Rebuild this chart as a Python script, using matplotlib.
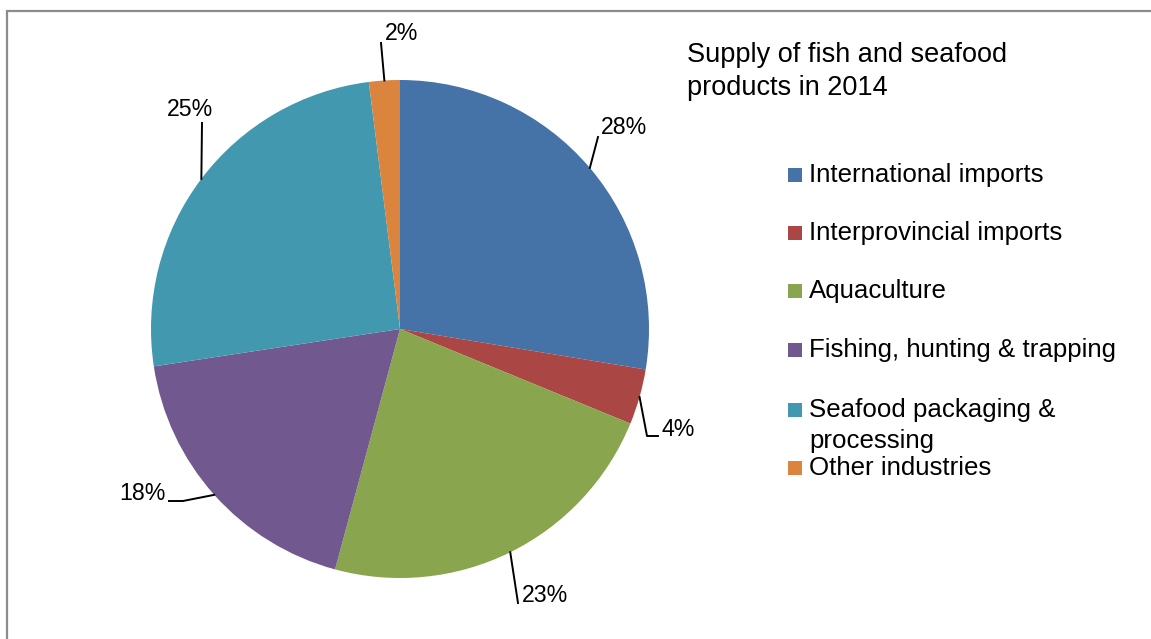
import matplotlib.pyplot as plt
from matplotlib.patches import Rectangle
import numpy as np

plt.rcParams['font.family'] = ['Liberation Sans', 'DejaVu Sans']

# data
categories = ['International imports', 'Interprovincial imports', 'Aquaculture',
              'Fishing, hunting & trapping', 'Seafood packaging &\nprocessing',
              'Other industries']
shares = [27.6, 3.6, 23.0, 18.4, 25.4, 2.0]
pct_labels = ['28%', '4%', '23%', '18%', '25%', '2%']
colors = ['#4572A7', '#AA4643', '#89A54E', '#71588F', '#4198AF', '#DB843D']

W, H = 1151, 639
cx, cy, R = 400, 329, 249

fig = plt.figure(figsize=(W / 100, H / 100), dpi=100)
ax = fig.add_axes([0, 0, 1, 1])

# y axis points down (pixel-like), so counterclock in data = clockwise on screen
wedges, _ = ax.pie(shares, colors=colors, startangle=-90, counterclock=True,
                   center=(cx, cy), radius=R, wedgeprops=dict(linewidth=0))
ax.set_xlim(0, W)
ax.set_ylim(H, 0)
ax.set_aspect('equal')
ax.axis('off')

# label layout: text position, alignment, leader waypoints after the edge point
lab_layout = [
    ((601, 128), 'left', [(598, 137)]),
    ((662, 429), 'left', [(647, 436), (658, 436)]),
    ((522, 596), 'left', [(518, 603)]),
    ((166, 493), 'right', [(183, 501), (169, 501)]),
    ((190, 109), 'center', [(202, 123)]),
    ((385, 33), 'left', [(381, 43)]),
]

for w, txt, (pos, ha, pts) in zip(wedges, pct_labels, lab_layout):
    mid = np.deg2rad((w.theta1 + w.theta2) / 2)
    ex = cx + R * np.cos(mid)
    ey = cy + R * np.sin(mid)
    xs = [ex] + [p[0] for p in pts]
    ys = [ey] + [p[1] for p in pts]
    ax.plot(xs, ys, color='black', lw=1.4)
    ax.text(pos[0], pos[1], txt, ha=ha, va='center', fontsize=16.7)

# title
ax.text(687, 62, 'Supply of fish and seafood', fontsize=19.5, va='baseline')
ax.text(687, 95, 'products in 2014', fontsize=19.5, va='baseline')

# legend drawn by hand to match the layout
baselines = [182, 240, 298, 357, 417, 475]
for name, col, b in zip(categories, colors, baselines):
    ax.add_patch(Rectangle((788, b - 14), 14, 14, facecolor=col, edgecolor='none'))
    lines = name.split('\n')
    ax.text(809, b, lines[0], fontsize=18.6, va='baseline')
    if len(lines) > 1:
        ax.text(809, b + 31, lines[1], fontsize=18.6, va='baseline')

# frame (only top and left edges visible)
ax.plot([7, 7, W], [H, 11, 11], color='#8c8c8c', lw=1.6, solid_joinstyle='miter')

fig.savefig('out.png', dpi=100)
